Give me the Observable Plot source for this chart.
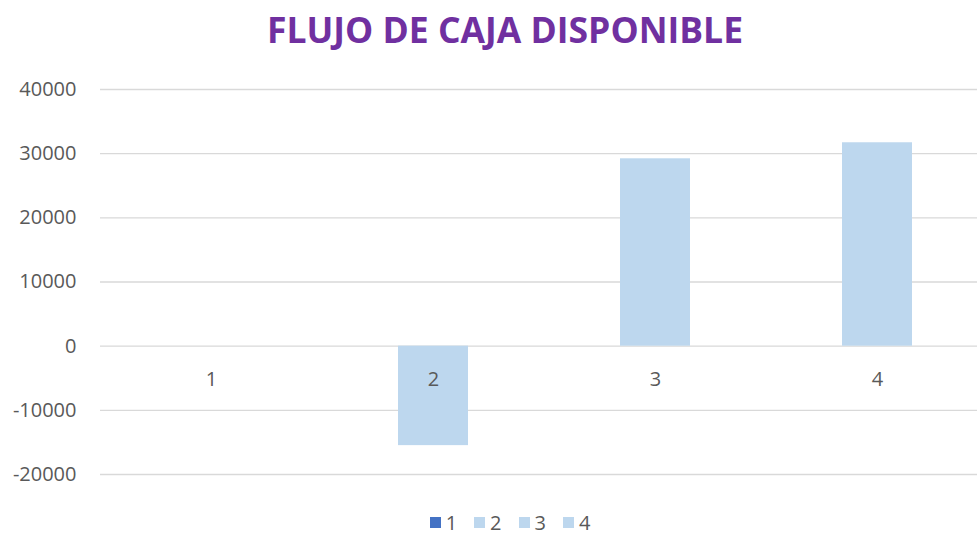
<!DOCTYPE html>
<html>
<head>
<meta charset="utf-8">
<script src="https://cdn.jsdelivr.net/npm/d3@7"></script>
<script src="https://cdn.jsdelivr.net/npm/@observablehq/plot@0.6"></script>
<style>
  html, body { margin: 0; padding: 0; background: #fff; overflow: hidden; width: 977px; height: 536px; }
  #title { width: 1010px; height: 60px; text-align: center; font-family: "Open Sans", sans-serif; font-weight: 700; font-size: 35.5px; color: #7030A0; line-height: 58px; white-space: nowrap; }
  #legend { box-sizing: border-box; width: 1020px; height: 36px; padding-top: 9px; display: flex; justify-content: center; align-items: flex-start; font-family: "Open Sans", sans-serif; font-size: 20px; line-height: 27px; color: #595959; }
  #legend .item { display: flex; align-items: center; margin: 0 8.5px; height: 27px; }
  #legend .sw { width: 11px; height: 11px; margin-right: 5px; }
</style>
</head>
<body>
<div id="title"></div>
<div id="chart"></div>
<div id="legend"></div>
<script>
const title = "FLUJO DE CAJA DISPONIBLE";
const categories = ["1", "2", "3", "4"];
const values = [0, -15500, 29200, 31700];
const yTicks = [-20000, -10000, 0, 10000, 20000, 30000, 40000];
const legendColors = ["#4472C4", "#BDD7EE", "#BDD7EE", "#BDD7EE"];
const barColor = "#BDD7EE";

document.getElementById("title").textContent = title;

const data = categories.map((c, i) => ({cat: c, value: values[i]}));

const plot = Plot.plot({
  width: 977,
  height: 440,
  marginTop: 29,
  marginBottom: 26,
  marginLeft: 100,
  marginRight: 0,
  style: {fontFamily: "Open Sans, sans-serif", fontSize: "20px", color: "#595959", background: "#fff"},
  x: {type: "band", domain: categories, range: [99.6, 988.6], paddingInner: 0.685, paddingOuter: 0.3425, axis: null},
  y: {domain: [-20000, 40000], axis: null, label: null},
  marks: [
    Plot.gridY(yTicks, {stroke: "#d9d9d9", strokeOpacity: 1, strokeWidth: 1.3}),
    Plot.barY(data, {x: "cat", y: "value", fill: barColor}),
    Plot.axisY(yTicks, {tickSize: 0, tickPadding: 24, fontSize: 20, fill: "#595959", label: null, tickFormat: d => String(d)}),
    Plot.text(data, {x: "cat", y: () => 0, text: "cat", dy: 33, fontSize: 20, fill: "#595959"})
  ]
});
document.getElementById("chart").appendChild(plot);

const legend = document.getElementById("legend");
categories.forEach((c, i) => {
  const item = document.createElement("span");
  item.className = "item";
  const sw = document.createElement("span");
  sw.className = "sw";
  sw.style.background = legendColors[i];
  const lab = document.createElement("span");
  lab.textContent = c;
  item.appendChild(sw);
  item.appendChild(lab);
  legend.appendChild(item);
});
</script>
</body>
</html>
